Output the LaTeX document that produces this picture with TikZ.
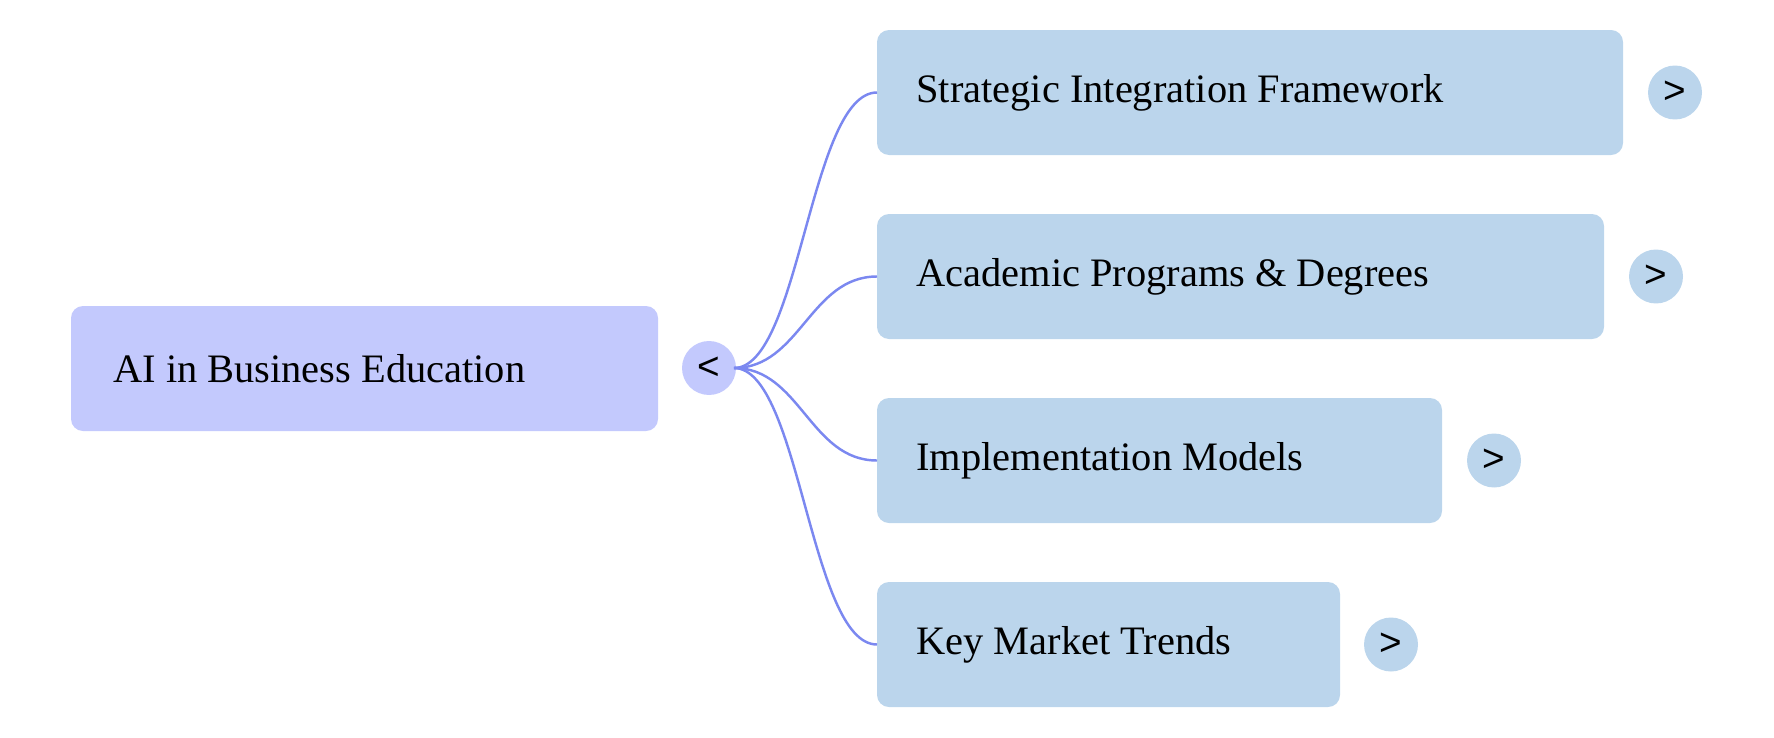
\documentclass[tikz,border=0pt]{standalone}
\usepackage{fontspec}
\setmainfont{Liberation Serif}
\setsansfont{Liberation Sans}
\definecolor{rootc}{HTML}{C3C9FD}
\definecolor{kidc}{HTML}{BBD5EC}
\definecolor{linec}{HTML}{7B88F0}
\begin{document}
\begin{tikzpicture}[x=0.02cm,y=-0.02cm,
  box/.style={rounded corners=0.24cm,inner sep=0pt,anchor=north west},
  lbl/.style={anchor=west,font=\fontsize{23}{27}\selectfont,inner sep=0pt},
  knob/.style={circle,fill=kidc,minimum size=1.08cm,inner sep=0pt,font=\sffamily\fontsize{22}{24}\selectfont},
  conn/.style={linec,line width=1.4pt}]
\useasboundingbox (0,0) rectangle (1774,737);
\fill[rootc,rounded corners=0.24cm] (71,306) rectangle (658,431);
\node[lbl] (root) at (113,368.5) {AI in Business Education};
\node[knob,fill=rootc] (rk) at (709,368) {<};
\coordinate (src) at (734,368);
\foreach \i/\t/\r/\y/\k in {a/Strategic Integration Framework/1623/30/1675,
  b/Academic Programs \& Degrees/1604/214/1656,
  c/Implementation Models/1442/398/1494,
  d/Key Market Trends/1340/582/1391}{
  \fill[kidc,rounded corners=0.24cm] (877,\y) rectangle (\r,\y+125);
  \coordinate (in\i) at (877,\y+62.5);
  \node[lbl] (t\i) at (916,\y+62.5) {\t};
  \node[knob] (k\i) at (\k,\y+62.5) {>};
  \draw[conn] (src) .. controls (800,368) and (810,\y+62.5) .. (in\i);
}
\end{tikzpicture}
\end{document}
